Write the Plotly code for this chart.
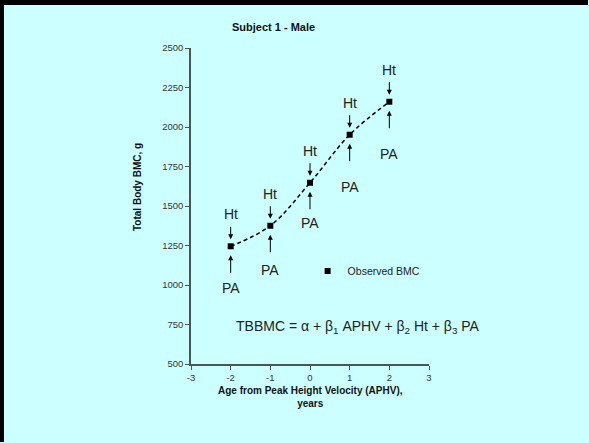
import plotly.graph_objects as go

# Data
aphv = [-2, -1, 0, 1, 2]
bmc = [1245, 1375, 1647, 1951, 2160]
ht_label = ["Ht"] * 5
pa_label = ["PA"] * 5
pa_text_offset = [42, 44, 40, 52, 52]
x_ticks = [-3, -2, -1, 0, 1, 2, 3]
x_tick_text = ["-3", "-2", "-1", "0", "1", "2", "3"]
y_ticks = [500, 750, 1000, 1250, 1500, 1750, 2000, 2250, 2500]

BG = "#CCFFFF"
FONT = "Liberation Sans, Arial, sans-serif"

W, H = 589, 443
ML, MR, MT, MB = 191, 160, 48, 79
PW, PH = W - ML - MR, H - MT - MB

fig = go.Figure()
fig.add_trace(go.Scatter(
    x=aphv, y=bmc, mode="lines", line=dict(color="black", dash="4px,3px", width=1.5, shape="spline"),
    showlegend=False, hoverinfo="skip"))
fig.add_trace(go.Scatter(
    x=aphv, y=bmc, mode="markers", name="Observed BMC",
    marker=dict(symbol="square", size=6, color="black")))

ann = []
for i, (xv, yv) in enumerate(zip(aphv, bmc)):
    # Ht arrow (down)
    ann.append(dict(x=xv, y=yv, xref="x", yref="y", text="", showarrow=True,
                    ax=0, ay=-21, arrowhead=2, arrowsize=1, arrowwidth=1, arrowcolor="black", standoff=7))
    ann.append(dict(x=xv, y=yv, xref="x", yref="y", text=ht_label[i], showarrow=False,
                    yshift=32, font=dict(family=FONT, size=14, color="#222")))
    # PA arrow (up)
    ann.append(dict(x=xv, y=yv, xref="x", yref="y", text="", showarrow=True,
                    ax=0, ay=28, arrowhead=2, arrowsize=1, arrowwidth=1, arrowcolor="black", standoff=9))
    ann.append(dict(x=xv, y=yv, xref="x", yref="y", text=pa_label[i], showarrow=False,
                    yshift=-pa_text_offset[i], font=dict(family=FONT, size=14, color="#222")))

ann.append(dict(x=0.345, y=1.066, xref="paper", yref="paper", text="<b>Subject 1 - Male</b>",
                showarrow=False, xanchor="center", yanchor="middle",
                font=dict(family=FONT, size=11, color="#111")))
ann.append(dict(x=0.5, y=-0.105, xref="paper", yref="paper",
                text="<b>Age from Peak Height Velocity (APHV),<br>years</b>",
                showarrow=False, xanchor="center", yanchor="middle",
                font=dict(family=FONT, size=10, color="#111")))
ann.append(dict(x=-0.227, y=0.56, xref="paper", yref="paper", text="<b>Total Body BMC, g</b>",
                showarrow=False, textangle=-90, xanchor="center", yanchor="middle",
                font=dict(family=FONT, size=10, color="#111")))
ann.append(dict(x=0.702, y=0.118, xref="paper", yref="paper",
                text="TBBMC = α + β<sub>1</sub> APHV + β<sub>2</sub> Ht + β<sub>3</sub> PA",
                showarrow=False, xanchor="center", yanchor="middle",
                font=dict(family=FONT, size=14, color="#222")))

def px_x(p):
    return (p - ML) / PW

def px_y(p):
    return (H - MB - p) / PH

shapes = [
    dict(type="line", xref="paper", yref="paper",
         x0=px_x(2), x1=px_x(2), y0=px_y(0), y1=px_y(H - 1),
         line=dict(color="black", width=4), layer="above"),
    dict(type="line", xref="paper", yref="paper",
         x0=px_x(0), x1=px_x(W - 1), y0=px_y(2.5), y1=px_y(2.5),
         line=dict(color="black", width=5), layer="above"),
]

axis_common = dict(showline=True, linecolor="#4a5555", linewidth=1.5, ticks="outside",
                   ticklen=4, tickwidth=1, tickcolor="#4a5555", showgrid=False, zeroline=False,
                   tickfont=dict(family=FONT, size=9.5, color="#333"))

fig.update_layout(
    width=W, height=H,
    margin=dict(l=ML, r=MR, t=MT, b=MB),
    paper_bgcolor=BG, plot_bgcolor=BG,
    xaxis=dict(range=[-3, 3], tickvals=x_ticks, ticktext=x_tick_text, **axis_common),
    yaxis=dict(range=[500, 2500], tickvals=y_ticks, **axis_common),
    legend=dict(x=0.49, y=0.294, xanchor="left", yanchor="middle", bgcolor="rgba(0,0,0,0)",
                font=dict(family=FONT, size=10.5, color="#222"), itemwidth=30),
    annotations=ann, shapes=shapes,
)

fig.write_html("out.html", config={"displayModeBar": False},
               post_script="document.body.style.margin='0';document.body.style.padding='0';document.body.style.overflow='hidden';")
